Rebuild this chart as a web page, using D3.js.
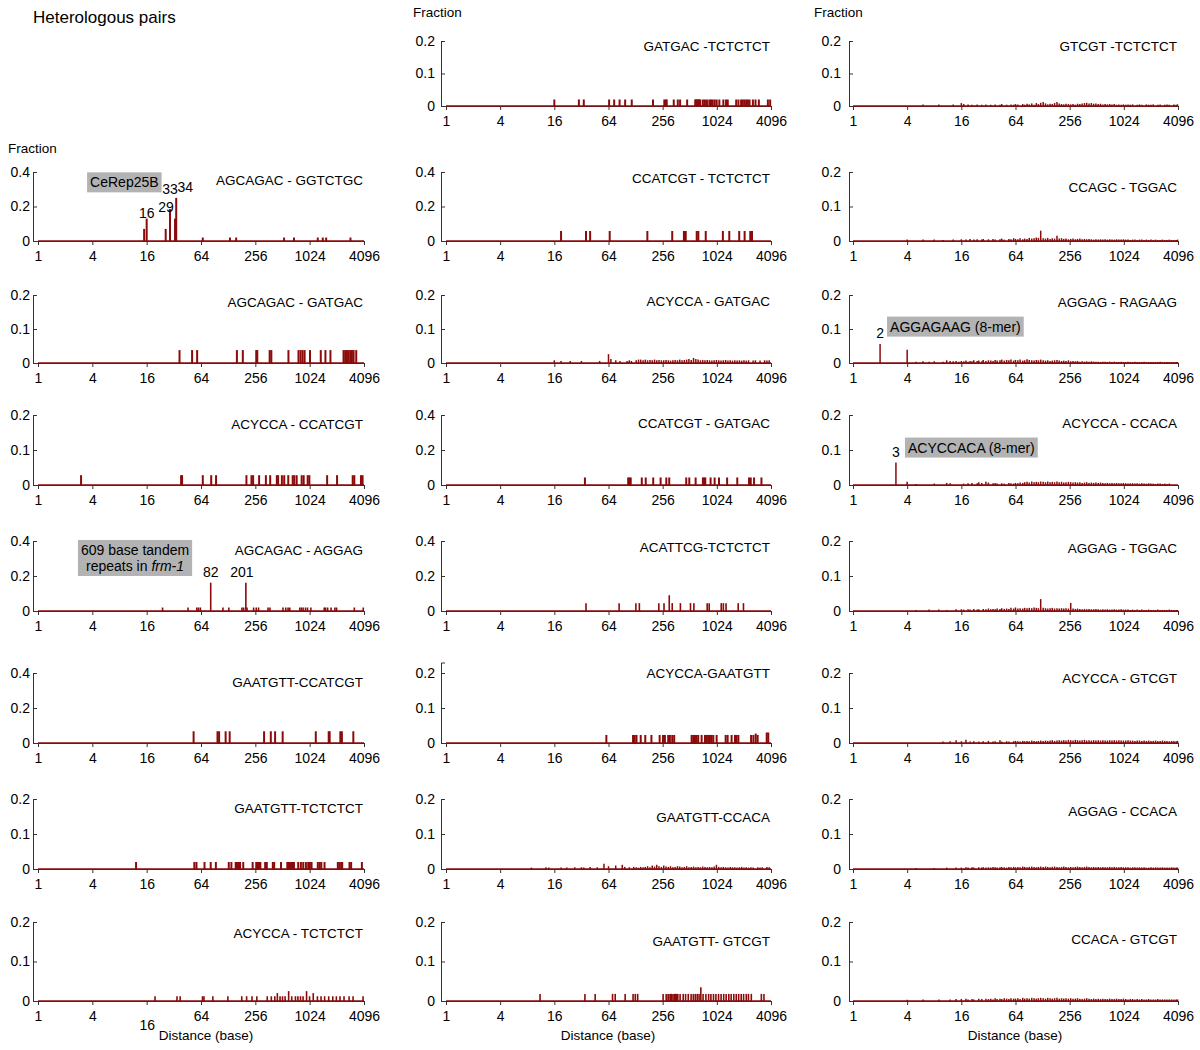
<!DOCTYPE html>
<html>
<head>
<meta charset="utf-8">
<script src="https://cdn.jsdelivr.net/npm/d3@7"></script>
<style>
body { margin: 0; background: #fff; }
text { font-family: "Liberation Sans", Arial, sans-serif; }
</style>
</head>
<body>
<script>
// x ticks (distance in bases, log4 axis)
var distTicks = [1, 4, 16, 64, 256, 1024, 4096];

// sparse panels: [distance, fraction]
var GATGAC_TCTCTCT = [[16,.02],[30,.02],[34,.02],[65,.02],[74,.02],[85,.02],[98,.02],[116,.02],[200,.02],[267,.02],[277,.02],[284,.02],[340,.02],[377,.02],[400,.02],[479,.02],[589,.02],[600,.02],[615,.02],[630,.02],[642,.02],[656,.02],[670,.02],[717,.02],[755,.02],[795,.02],[845,.02],[882,.02],[921,.02],[969,.02],[1020,.02],[1092,.02],[1210,.02],[1296,.02],[1354,.02],[1680,.02],[1781,.02],[1907,.02],[1990,.02],[2077,.02],[2170,.02],[2266,.02],[2366,.02],[2577,.02],[2756,.02],[3002,.02],[3780,.02],[4010,.02]];
var AGCAGAC_GGTCTGC = [[15,.07],[16,.13],[26,.07],[29,.185],[33,.13],[34,.25],[67,.02],[134,.02],[157,.02],[533,.02],[687,.02],[1259,.02],[1430,.02],[1560,.02],[2900,.02]];
var CCATCGT_TCTCTCT = [[19,.058],[36,.058],[40,.058],[66,.058],[173,.058],[327,.058],[441,.058],[450,.058],[462,.058],[612,.058],[638,.058],[771,.058],[1195,.058],[1408,.058],[1816,.058],[2085,.058],[2410,.058],[2518,.058]];
var AGCAGAC_GATGAC = [[37,.038],[51,.038],[58,.038],[160,.038],[186,.038],[262,.038],[269,.038],[369,.038],[385,.038],[596,.038],[770,.038],[812,.038],[855,.038],[900,.038],[1033,.038],[1359,.038],[1531,.038],[1740,.038],[2430,.038],[2536,.038],[2650,.038],[2766,.038],[2887,.038],[3010,.038],[3140,.038],[3360,.038]];
var ACYCCA_CCATCGT = [[3,.028],[38.5,.028],[39.5,.028],[67,.028],[83,.028],[94,.028],[204,.028],[232,.028],[242,.028],[282,.028],[335,.028],[374,.028],[443,.028],[458,.028],[504,.028],[535,.028],[593,.028],[664,.028],[692,.028],[735,.028],[835,.028],[879,.028],[973,.028],[1016,.028],[1599,.028],[2060,.028],[3070,.028],[3200,.028],[3790,.028],[3950,.028]];
var CCATCGT_GATGAC = [[35,.043],[106,.043],[109,.043],[113,.043],[150,.043],[166,.043],[201,.043],[243,.043],[281,.043],[303,.043],[468,.043],[506,.043],[595,.043],[717,.043],[742,.043],[762,.043],[873,.043],[968,.043],[1083,.043],[1333,.043],[1728,.043],[2336,.043],[2438,.043],[2655,.043],[3206,.043]];
var AGCAGAC_AGGAG = [[24,.02],[46,.02],[57.5,.02],[60,.02],[63,.02],[82,.162],[112,.02],[130,.02],[182,.02],[190,.02],[201,.162],[207,.02],[245,.02],[262,.02],[278,.02],[354,.02],[372,.02],[518,.02],[556,.02],[590,.02],[616,.02],[795,.02],[830,.02],[866,.02],[920,.02],[969,.02],[1055,.02],[1485,.02],[1536,.02],[1620,.02],[1768,.02],[1950,.02],[2035,.02],[3200,.02],[4020,.02]];
var ACATTCG_TCTCTCT = [[36,.045],[84,.045],[129,.045],[141,.045],[232,.045],[265,.045],[303,.09],[327,.045],[403,.045],[522,.045],[569,.045],[800,.045],[842,.045],[1146,.045],[1210,.045],[1296,.045],[1770,.045],[2025,.045]];
var GAATGTT_CCATCGT = [[53,.067],[97.5,.067],[101.6,.067],[120,.067],[133,.067],[320,.067],[380,.067],[424,.067],[514,.067],[1197,.067],[1664,.067],[1705,.067],[2240,.067],[2330,.067],[3120,.067]];
var ACYCCA_GAATGTT = [[60.6,.023],[120,.023],[125,.023],[131,.023],[146,.023],[164,.023],[192,.023],[237,.023],[258,.023],[271,.023],[295,.023],[308,.023],[327,.023],[344,.023],[537,.023],[560,.023],[585,.023],[609,.023],[636,.023],[694,.023],[756,.023],[790,.023],[822,.023],[858,.023],[895,.023],[935,.023],[1019,.023],[1283,.023],[1350,.023],[1494,.023],[1630,.023],[1695,.023],[1777,.023],[2460,.023],[2610,.023],[2770,.027],[2910,.023],[3670,.03],[3820,.03]];
var GAATGTT_TCTCTCT = [[12.2,.02],[54,.02],[57,.02],[70,.02],[82,.02],[93.5,.02],[130,.02],[139,.02],[155,.02],[159,.02],[164.5,.02],[169,.02],[173.5,.02],[188,.02],[239,.02],[262,.02],[271,.02],[281,.02],[291,.02],[329,.02],[343,.02],[400,.02],[414,.02],[493,.02],[579,.02],[598,.02],[619,.02],[640,.02],[663,.02],[686,.02],[765,.02],[818,.02],[869,.02],[930,.02],[987,.02],[1030,.02],[1075,.02],[1260,.02],[1322,.02],[1378,.02],[1496,.02],[2100,.02],[2190,.02],[2290,.02],[2350,.02],[2830,.02],[2950,.02],[3880,.02]];
var ACYCCA_TCTCTCT = [[19.8,.012],[34.7,.012],[37.6,.012],[66.5,.012],[69,.012],[86.6,.012],[127,.012],[181,.012],[205,.012],[235,.012],[266,.012],[347,.012],[385,.012],[421,.012],[449,.02],[481,.012],[512,.012],[547,.012],[599,.025],[648,.012],[712,.012],[758,.012],[810,.012],[865,.012],[946,.025],[1022,.012],[1122,.02],[1248,.012],[1369,.012],[1500,.012],[1664,.012],[1847,.012],[2024,.012],[2220,.012],[2460,.012],[2800,.012],[3100,.012],[4000,.012]];
var GAATGTT_GTCGT = [[11.1,.018],[35,.018],[45.5,.018],[71,.018],[76,.018],[98,.018],[120,.018],[127,.018],[135,.018],[259,.018],[280,.018],[294,.018],[300,.018],[313,.018],[320,.018],[333,.018],[345,.018],[354,.018],[365,.018],[377,.018],[400,.018],[433,.018],[460,.018],[493,.018],[530,.018],[561,.018],[590,.018],[620,.018],[650,.018],[680,.035],[720,.018],[774,.018],[830,.018],[880,.018],[940,.018],[1000,.018],[1070,.018],[1142,.018],[1220,.018],[1300,.018],[1390,.018],[1477,.018],[1580,.018],[1683,.018],[1790,.018],[1910,.018],[2030,.018],[2175,.018],[2300,.018],[2475,.018],[3200,.018],[3420,.018]];

// dense panels: distances sampled along the axis from 16 up, heights in thousandths (0 = no bar)
var denseDist = [16,17,18,19,20,21,22,24,25,27,28,30, 32,34,36,38,40,43,45,48,51,54,57,61,
	64,68,72,77,81,86,91,97,103,109,115,122, 130,138,146,155,164,174,185,196,208,220,233,248,
	263,279,296,313,332,352,374,396,420,446,473,501, 532,564,598,634,672,713,756,802,850,902,956,1014,
	1075,1140,1209,1282,1360,1442,1529,1622,1720,1824,1934,2051, 2175,2306,2446,2594,2750,2917,3093,3280,3478,3689,3912,4050];

var GTCGT_TCTCTCT_low = [[6,.005],[9,.005],[13,.005]];
var GTCGT_TCTCTCT_h = [9,6,0,5,0,4,0,5,0,4,0,5, 0,4,0,5,0,4,6,0,4,0,5,4, 6,5,0,6,4,7,5,8,4,9,6,10, 12,8,5,7,6,9,12,8,6,5,7,6,
	5,6,4,7,6,8,9,10,8,9,7,8, 6,7,5,6,5,6,5,6,4,5,4,5, 4,5,4,5,0,4,5,4,0,5,4,4, 5,0,4,5,0,4,5,4,0,5,4,5];
var CCAGC_TGGAC_low = [[4,.004],[6,.004],[8,.004],[10,.003],[13,.004]];
var CCAGC_TGGAC_h = [5,0,4,0,6,0,4,5,0,4,6,0, 5,0,6,4,0,5,7,4,0,6,5,8, 6,5,8,5,7,6,9,7,8,10,9,30, 8,7,9,6,8,7,15,7,8,6,7,5,
	6,7,5,6,7,5,6,5,6,5,4,5, 4,5,4,5,4,5,4,4,5,4,4,5, 4,4,3,4,4,3,4,4,3,4,3,4, 3,4,3,3,4,3,3,4,3,3,3,4];
var AGGAG_RAGAAG_low = [[2,.056],[4,.039],[5,.004],[6,.005],[7,.004],[8,.005],[10,.004],[11,.008],[12,.006],[13,.005],[14,.006],[15,.004]];
var AGGAG_RAGAAG_h = [6,5,7,4,6,5,8,6,7,5,9,6, 8,7,6,9,7,8,10,7,9,8,10,7, 9,8,10,7,8,11,9,8,7,9,8,10, 8,7,8,6,7,8,9,7,6,7,6,8,
	5,6,5,6,4,5,4,5,4,5,4,4, 4,3,4,4,3,4,3,4,3,3,4,3, 3,4,3,3,4,3,3,3,4,3,3,3, 3,3,3,4,3,3,3,3,3,3,3,3];
var ACYCCA_CCACA_low = [[3,.064],[4,.009],[5,.003],[8,.004],[11,.006],[12,.005]];
var ACYCCA_CCACA_h = [0,4,0,5,0,6,0,5,8,6,0,9, 7,0,5,6,4,0,5,4,0,6,5,4, 6,5,7,6,8,9,7,10,8,9,8,10, 9,8,10,8,9,8,10,8,9,7,8,9,
	8,7,8,7,8,6,7,8,6,7,6,7, 6,7,6,5,6,5,6,5,6,5,5,6, 5,4,5,5,4,5,4,5,4,4,5,4, 4,3,4,4,3,4,3,4,0,0,0,0];
var AGGAG_TGGAC_low = [[5,.003],[7,.004],[9,.004],[11,.003],[14,.005]];
var AGGAG_TGGAC_h = [5,4,0,5,4,0,6,4,5,0,6,5, 7,5,6,5,7,6,8,6,7,6,9,7, 10,7,8,7,9,8,9,8,10,9,8,34, 9,8,7,8,9,7,8,7,8,7,8,7,
	23,7,6,7,6,5,6,5,6,5,5,6, 5,4,5,4,5,4,4,5,4,4,5,4, 4,4,3,4,3,4,3,4,3,3,4,3, 3,3,4,3,3,3,3,4,3,3,3,3];
var ACYCCA_GTCGT_low = [[10,.004],[12,.005],[14,.008]];
var ACYCCA_GTCGT_h = [5,0,9,0,4,0,5,0,4,0,5,0, 6,0,4,5,0,8,4,0,5,4,0,5, 6,5,4,6,5,6,5,7,6,5,6,7, 6,7,6,7,8,6,7,8,7,8,7,9,
	8,7,9,8,7,8,9,7,8,7,8,7, 8,7,8,7,7,8,7,8,7,8,7,7, 7,8,7,7,6,7,7,6,7,6,7,6, 6,7,6,6,7,6,6,5,6,6,5,6];
var AGGAG_CCACA_low = [[5,.003],[8,.003],[11,.004],[14,.004]];
var AGGAG_CCACA_h = [4,0,5,4,0,5,4,0,5,4,5,4, 5,4,6,5,4,5,6,5,4,6,5,6, 5,6,5,7,6,5,6,7,6,5,6,7, 6,7,6,5,6,7,6,5,6,7,6,5,
	6,5,6,7,6,5,6,7,6,5,6,5, 6,5,6,5,5,6,5,6,5,5,6,5, 5,5,4,5,5,4,5,4,5,4,4,5, 4,5,4,4,5,4,4,4,5,4,4,4];
var CCACA_GTCGT_low = [[4,.003],[6,.004],[9,.004],[12,.004],[14,.005]];
var CCACA_GTCGT_h = [5,0,6,4,0,5,4,0,6,5,0,6, 5,6,4,7,5,6,5,7,6,5,7,6, 6,7,5,8,6,7,6,8,7,6,7,8, 7,6,8,7,6,7,8,6,7,6,7,6,
	7,6,6,7,6,5,6,7,6,5,6,5, 6,5,6,5,5,6,5,5,6,5,5,6, 5,4,5,5,4,5,4,5,4,4,5,4, 4,4,5,4,4,4,4,4,4,4,4,4];
var ACYCCA_GATGAC_low = [];
var ACYCCA_GATGAC_h = [8,0,0,6,0,0,0,6,0,0,0,0, 6,0,0,0,0,0,0,0,6,0,0,0, 26,12,0,8,0,6,0,0,6,8,6,0, 8,10,10,8,10,8,9,8,10,8,9,8,
	8,9,8,7,8,9,8,10,8,9,10,12, 9,15,12,10,8,9,8,9,8,7,8,9, 8,7,8,9,7,8,7,8,7,8,7,8, 7,8,0,7,8,0,7,0,8,7,8,0];
var GAATGTT_CCACA_low = [[8.9,.004],[12.9,.005],[13.9,.004]];
var GAATGTT_CCACA_h = [0,0,0,4,0,0,4,0,0,5,0,0, 5,4,0,0,6,0,0,5,0,0,15,0, 8,0,0,10,0,0,12,6,0,5,0,6, 5,4,6,5,6,8,5,10,7,12,8,6,
	10,7,6,8,5,6,8,7,5,6,8,5, 6,7,5,6,5,7,6,5,6,5,7,12, 6,5,6,5,4,6,5,5,4,5,6,4, 5,4,5,4,0,5,4,5,0,6,5,0];

function dense(low, h) {
	return low.concat(d3.zip(denseDist, h).filter(function(d) { return d[1] > 0; })
		.map(function(d) { return [d[0], d[1] / 1000]; }));
}

// layout of the 3 x 8 grid
var colGeom = [{axis: 33, x0: 38, x1: 364, pad: 3, mid: 206}, {axis: 441, x0: 446, x1: 771, pad: 6, mid: 608}, {axis: 849, x0: 853, x1: 1178, pad: 8, mid: 1015}];
var rowGeom = [[41,106],[172,241],[295,363],[415,485],[541,611],[673,743],[799,869],[922,1001]];

var panels = [
	{r:0, c:1, title:"GATGAC -TCTCTCT",   ymax:.2, data:GATGAC_TCTCTCT,  ty:10, bw:2},
	{r:0, c:2, title:"GTCGT -TCTCTCT",    ymax:.2, data:dense(GTCGT_TCTCTCT_low, GTCGT_TCTCTCT_h), ty:10, bw:1.5},
	{r:1, c:0, title:"AGCAGAC - GGTCTGC", ymax:.4, data:AGCAGAC_GGTCTGC, ty:13, bw:2},
	{r:1, c:1, title:"CCATCGT - TCTCTCT", ymax:.4, data:CCATCGT_TCTCTCT, ty:11, bw:2},
	{r:1, c:2, title:"CCAGC - TGGAC",     ymax:.2, data:dense(CCAGC_TGGAC_low, CCAGC_TGGAC_h), ty:20, bw:1.5},
	{r:2, c:0, title:"AGCAGAC - GATGAC",  ymax:.2, data:AGCAGAC_GATGAC,  ty:12, bw:2},
	{r:2, c:1, title:"ACYCCA - GATGAC",   ymax:.2, data:dense(ACYCCA_GATGAC_low, ACYCCA_GATGAC_h), ty:11, bw:1.5},
	{r:2, c:2, title:"AGGAG - RAGAAG",    ymax:.2, data:dense(AGGAG_RAGAAG_low, AGGAG_RAGAAG_h), ty:12, bw:1.5},
	{r:3, c:0, title:"ACYCCA - CCATCGT",  ymax:.2, data:ACYCCA_CCATCGT,  ty:14, bw:2},
	{r:3, c:1, title:"CCATCGT - GATGAC",  ymax:.4, data:CCATCGT_GATGAC,  ty:13, bw:2},
	{r:3, c:2, title:"ACYCCA - CCACA",    ymax:.2, data:dense(ACYCCA_CCACA_low, ACYCCA_CCACA_h), ty:13, bw:1.5},
	{r:4, c:0, title:"AGCAGAC - AGGAG",   ymax:.4, data:AGCAGAC_AGGAG,   ty:14, bw:1.6},
	{r:4, c:1, title:"ACATTCG-TCTCTCT",   ymax:.4, data:ACATTCG_TCTCTCT, ty:11, bw:1.6},
	{r:4, c:2, title:"AGGAG - TGGAC",     ymax:.2, data:dense(AGGAG_TGGAC_low, AGGAG_TGGAC_h), ty:12, bw:1.5},
	{r:5, c:0, title:"GAATGTT-CCATCGT",   ymax:.4, data:GAATGTT_CCATCGT, ty:14, bw:2},
	{r:5, c:1, title:"ACYCCA-GAATGTT",    ymax:.2, ytop:.23, data:ACYCCA_GAATGTT, ty:5, bw:2},
	{r:5, c:2, title:"ACYCCA - GTCGT",    ymax:.2, data:dense(ACYCCA_GTCGT_low, ACYCCA_GTCGT_h), ty:10, bw:1.5},
	{r:6, c:0, title:"GAATGTT-TCTCTCT",   ymax:.2, data:GAATGTT_TCTCTCT, ty:14, bw:2},
	{r:6, c:1, title:"GAATGTT-CCACA",     ymax:.2, data:dense(GAATGTT_CCACA_low, GAATGTT_CCACA_h), ty:23, bw:1.5},
	{r:6, c:2, title:"AGGAG - CCACA",     ymax:.2, data:dense(AGGAG_CCACA_low, AGGAG_CCACA_h), ty:17, bw:1.5},
	{r:7, c:0, title:"ACYCCA - TCTCTCT",  ymax:.2, data:ACYCCA_TCTCTCT,  ty:16, bw:1.6, low16:true},
	{r:7, c:1, title:"GAATGTT- GTCGT",    ymax:.2, data:GAATGTT_GTCGT,   ty:24, bw:1.6},
	{r:7, c:2, title:"CCACA - GTCGT",     ymax:.2, data:dense(CCACA_GTCGT_low, CCACA_GTCGT_h), ty:22, bw:1.5}
];

// grey annotation boxes, anchored at (distance, fraction) of their left edge / vertical centre
var notes = [
	{r:1, c:0, d:3.5,  f:.34,  lines:["CeRep25B"]},
	{r:4, c:0, d:2.77, f:.303, lines:["609 base tandem", "repeats in <i>frm-1</i>"]},
	{r:2, c:2, d:2.39, f:.107, lines:["AGGAGAAG (8-mer)"]},
	{r:3, c:2, d:3.78, f:.107, lines:["ACYCCACA (8-mer)"]}
];
// peak labels: distance, fraction of text baseline, text, dx
var peakLabels = [
	{r:1, c:0, d:16, f:.135, t:"16", dx:0},
	{r:1, c:0, d:29, f:.17,  t:"29", dx:-4},
	{r:1, c:0, d:33, f:.275, t:"33", dx:-5},
	{r:1, c:0, d:34, f:.285, t:"34", dx:9},
	{r:4, c:0, d:82, f:.195, t:"82", dx:0},
	{r:4, c:0, d:201, f:.195, t:"201", dx:-4},
	{r:2, c:2, d:2, f:.0735, t:"2", dx:0},
	{r:3, c:2, d:3, f:.08, t:"3", dx:0}
];

var red = "#8b0a0a", axisCol = "#333";

var svg = d3.select("body").append("svg").attr("width", 1200).attr("height", 1050);

svg.append("text").attr("x", 33).attr("y", 23).attr("font-size", "17px").text("Heterologous pairs");
[[8,153],[413,17],[814,17]].forEach(function(p) {
	svg.append("text").attr("x", p[0]).attr("y", p[1]).attr("font-size", "13.5px").text("Fraction");
});
colGeom.forEach(function(cg) {
	svg.append("text").attr("x", cg.mid).attr("y", 1040).attr("text-anchor", "middle")
		.attr("font-size", "13.5px").text("Distance (base)");
});

var scales = {};

panels.forEach(function(p) {
	var cg = colGeom[p.c], rg = rowGeom[p.r];
	var top = p.ytop || p.ymax;
	var pxPer = (rg[1] - rg[0]) / p.ymax;
	var x = d3.scaleLog().base(4).domain([1, 4096]).range([cg.x0, cg.x1]);
	var y = d3.scaleLinear().domain([0, top]).range([rg[1], rg[1] - top * pxPer]);
	scales[p.r + "_" + p.c] = {x: x, y: y};
	var g = svg.append("g");

	// y axis
	var ya = g.append("g").attr("transform", "translate(" + cg.axis + ",0)")
		.call(d3.axisLeft(y).tickValues(p.ymax > .3 ? [0, .2, .4] : [0, .1, .2])
			.tickSize(-4).tickPadding(cg.pad)
			.tickFormat(function(d) { return d === 0 ? "0" : d.toFixed(1); }));
	ya.select(".domain").attr("stroke", axisCol);
	ya.selectAll(".tick line").attr("stroke", axisCol);
	ya.selectAll(".tick text").attr("font-size", "14px").attr("fill", "#000");

	// x axis
	g.append("line").attr("x1", cg.axis).attr("x2", cg.x0).attr("y1", y(0) + .5).attr("y2", y(0) + .5).attr("stroke", axisCol);
	var xa = g.append("g").attr("transform", "translate(0," + y(0) + ")")
		.call(d3.axisBottom(x).tickValues(distTicks).tickFormat(d3.format("d"))
			.tickSize(4).tickSizeOuter(0).tickPadding(6));
	xa.select(".domain").attr("stroke", axisCol);
	xa.selectAll(".tick line").attr("stroke", axisCol);
	xa.selectAll(".tick text").attr("font-size", "14px").attr("fill", "#000");
	if (p.low16)
		xa.selectAll(".tick text").filter(function(d) { return d === 16; }).attr("y", 19);

	// baseline and bars
	g.append("line").attr("x1", cg.x0).attr("x2", cg.x1).attr("y1", y(0)).attr("y2", y(0))
		.attr("stroke", red).attr("stroke-width", 1.6);
	g.selectAll("line.bar").data(p.data).join("line").attr("class", "bar")
		.attr("x1", function(d) { return x(d[0]); }).attr("x2", function(d) { return x(d[0]); })
		.attr("y1", y(0)).attr("y2", function(d) { return y(d[1]); })
		.attr("stroke", red).attr("stroke-width", p.bw);

	// title
	g.append("text").attr("x", cg.x1 - 1).attr("y", rg[0] + p.ty).attr("text-anchor", "end")
		.attr("font-size", "13.5px").text(p.title);
});

notes.forEach(function(n) {
	var s = scales[n.r + "_" + n.c];
	var lh = 16, h = n.lines.length * lh + 4;
	var g = svg.append("g").attr("transform", "translate(" + s.x(n.d) + "," + (s.y(n.f) - h / 2) + ")");
	var rect = g.append("rect").attr("fill", "#b3b3b3");
	var t = g.append("text").attr("font-size", "14px").attr("text-anchor", "middle").attr("y", 15);
	var rows = n.lines.map(function(l, i) {
		var ts = t.append("tspan").attr("x", 0).attr("y", 15 + i * lh);
		l.split(/<i>|<\/i>/).forEach(function(pt, j) {
			if (pt) ts.append("tspan").attr("font-style", j % 2 ? "italic" : null).text(pt);
		});
		return ts;
	});
	var w = t.node().getBBox().width + 6;
	rows.forEach(function(ts) { ts.attr("x", w / 2); });
	rect.attr("width", w).attr("height", h);
});

peakLabels.forEach(function(l) {
	var s = scales[l.r + "_" + l.c];
	svg.append("text").attr("x", s.x(l.d) + l.dx).attr("y", s.y(l.f)).attr("text-anchor", "middle")
		.attr("font-size", "14px").text(l.t);
});
</script>
</body>
</html>
